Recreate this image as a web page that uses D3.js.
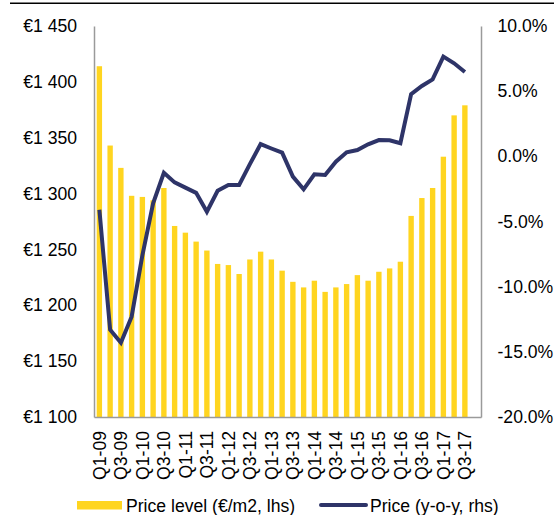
<!DOCTYPE html>
<html><head><meta charset="utf-8">
<script src="https://cdn.jsdelivr.net/npm/d3@7"></script>
<style>
html,body{margin:0;padding:0;background:#fff;}
svg{display:block;font-family:"Liberation Sans",Arial,sans-serif;}
</style></head>
<body>
<svg id="chart" width="554" height="515"></svg>
<script>
const categories = ["Q1-09","Q2-09","Q3-09","Q4-09","Q1-10","Q2-10","Q3-10","Q4-10","Q1-11","Q2-11","Q3-11","Q4-11","Q1-12","Q2-12","Q3-12","Q4-12","Q1-13","Q2-13","Q3-13","Q4-13","Q1-14","Q2-14","Q3-14","Q4-14","Q1-15","Q2-15","Q3-15","Q4-15","Q1-16","Q2-16","Q3-16","Q4-16","Q1-17","Q2-17","Q3-17","Q4-17"];
const priceLevel = [1414,1343,1323,1298,1297,1294,1305,1271,1265,1257,1249,1237,1236,1228,1241,1248,1241,1231,1221,1216,1222,1212,1216,1219,1227,1222,1230,1233,1239,1280,1296,1305,1333,1370,1379,null];
const priceYoY = [-4.1,-13.3,-14.3,-12.3,-7.6,-3.6,-1.26,-2.0,-2.4,-2.8,-4.25,-2.64,-2.2,-2.2,-0.6,0.94,0.6,0.28,-1.56,-2.53,-1.38,-1.43,-0.41,0.31,0.48,0.92,1.25,1.23,1.0,4.78,5.4,5.9,7.65,7.14,6.47,null];
const leftTicks = [1100,1150,1200,1250,1300,1350,1400,1450];
const leftTickLabels = ["€1 100","€1 150","€1 200","€1 250","€1 300","€1 350","€1 400","€1 450"];
const rightTicks = [-20,-15,-10,-5,0,5,10];
const rightTickLabels = ["-20.0%","-15.0%","-10.0%","-5.0%","0.0%","5.0%","10.0%"];
const xLabelCats = categories.filter((c,i)=>i%2===0 && i<35);
const legendLabels = ["Price level (€/m2, lhs)","Price (y-o-y, rhs)"];

const barColor = "#FFD520", lineColor = "#2E3468", axisColor = "#9a9a9a";
const fontSize = 17.6;
const L = 94, R = 481, T = 26, B = 417;

const svg = d3.select("#chart");
const x = d3.scaleBand().domain(categories).range([L,R]).paddingInner(0.5).paddingOuter(0.25);
const yL = d3.scaleLinear().domain([1100,1450]).range([B,T]);
const yR = d3.scaleLinear().domain([-20,10]).range([B,T]);

// top rule
svg.append("line").attr("x1",10).attr("x2",554).attr("y1",3.3).attr("y2",3.3).attr("stroke","#000").attr("stroke-width",1.5);

// bars
svg.append("g").selectAll("rect").data(categories.map((c,i)=>({c,v:priceLevel[i]})).filter(d=>d.v!=null))
  .join("rect").attr("x",d=>x(d.c)).attr("width",x.bandwidth())
  .attr("y",d=>yL(d.v)).attr("height",d=>B-yL(d.v)).attr("fill",barColor);

// axes
const axL = svg.append("g").attr("transform",`translate(${L},0)`)
  .call(d3.axisLeft(yL).tickValues(leftTicks).tickSize(0).tickPadding(17).tickFormat((d,i)=>leftTickLabels[i]));
const axR = svg.append("g").attr("transform",`translate(${R},0)`)
  .call(d3.axisRight(yR).tickValues(rightTicks).tickSize(0).tickPadding(16.5).tickFormat((d,i)=>rightTickLabels[i]));
const axB = svg.append("g").attr("transform",`translate(0,${B})`)
  .call(d3.axisBottom(x).tickValues(xLabelCats).tickSize(0).tickPadding(0));
[axL,axR,axB].forEach(a=>{
  a.select(".domain").attr("stroke",axisColor).attr("stroke-width",1.5);
  a.selectAll("text").attr("font-size",fontSize).attr("fill","#000").attr("font-family","Liberation Sans, Arial, sans-serif");
});
axB.selectAll("text").attr("transform","rotate(-90)").attr("text-anchor","end")
  .attr("x",-14).attr("y",0).attr("dy","0.35em");

// line
const line = d3.line().defined(d=>d.v!=null).x(d=>x(d.c)+x.bandwidth()/2).y(d=>yR(d.v));
svg.append("path").datum(categories.map((c,i)=>({c,v:priceYoY[i]})))
  .attr("d",line).attr("fill","none").attr("stroke",lineColor).attr("stroke-width",4).attr("stroke-linejoin","miter");

// legend
const lg = svg.append("g");
lg.append("rect").attr("x",77).attr("y",501).attr("width",45).attr("height",8.5).attr("fill",barColor);
lg.append("text").attr("x",126).attr("y",511.5).attr("font-size",fontSize).text(legendLabels[0]);
lg.append("line").attr("x1",321).attr("x2",366).attr("y1",505).attr("y2",505).attr("stroke",lineColor).attr("stroke-width",4).attr("stroke-linecap","round");
lg.append("text").attr("x",370).attr("y",511.5).attr("font-size",fontSize).text(legendLabels[1]);
</script>
</body></html>
